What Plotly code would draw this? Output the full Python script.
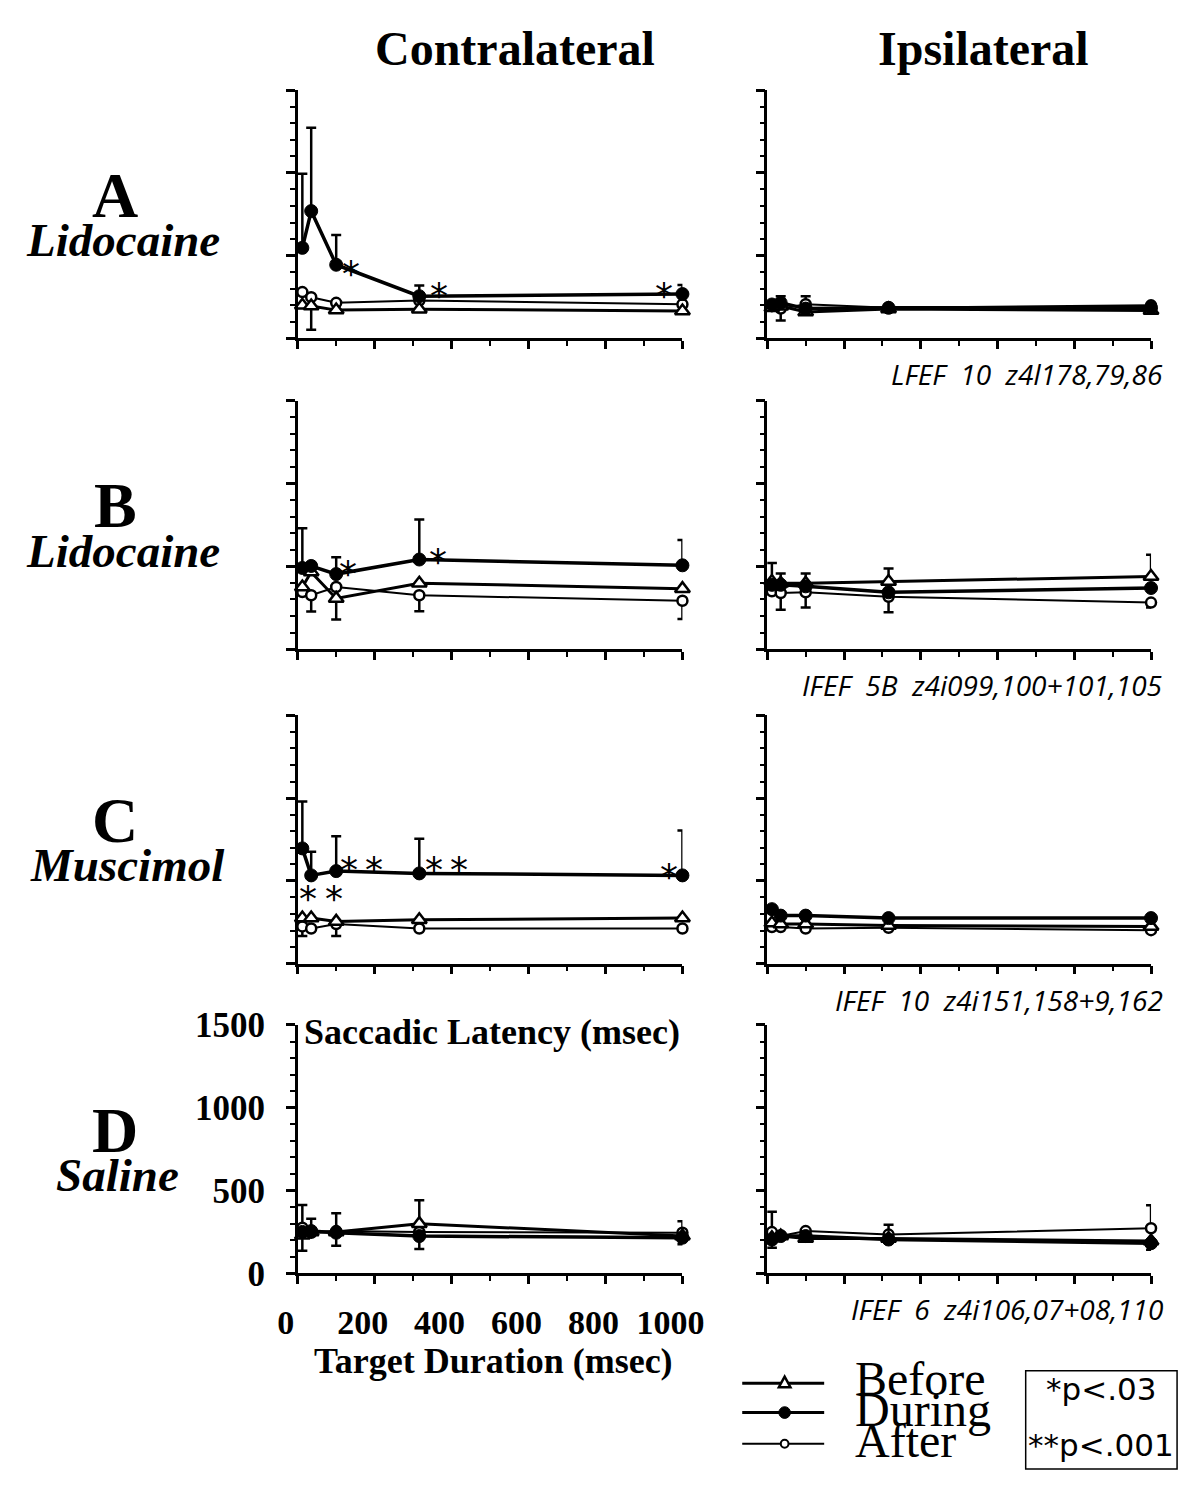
import plotly.graph_objects as go

# ---------------- data ----------------
durations = [12, 35, 100, 316, 1000]          # target duration (msec)

# A  Lidocaine
before_A_c = [200, 196, 171, 176, 166]
during_A_c = [547, 769, 445, 255, 268]
after_A_c = [280, 249, 215, 229, 206]
before_A_i = [185, 195, 160, 178, 168]
during_A_i = [205, 215, 180, 185, 185]
after_A_i = [195, 180, 207, 185, 200]
# B  Lidocaine
before_B_c = [375, 465, 306, 398, 365]
during_B_c = [490, 502, 453, 541, 506]
after_B_c = [345, 325, 375, 325, 292]
before_B_i = [408, 398, 398, 408, 438]
during_B_i = [388, 388, 379, 343, 369]
after_B_i = [349, 339, 343, 316, 281]
# C  Muscimol
before_C_c = [275, 275, 255, 265, 275]
during_C_c = [696, 533, 559, 545, 533]
after_C_c = [225, 212, 239, 212, 212]
before_C_i = [245, 240, 240, 230, 225]
during_C_i = [329, 290, 290, 275, 275]
after_C_i = [221, 221, 212, 216, 202]
# D  Saline
before_D_c = [230, 250, 250, 300, 225]
during_D_c = [250, 255, 245, 225, 215]
after_D_c = [275, 245, 255, 250, 245]
before_D_i = [215, 225, 210, 210, 195]
during_D_i = [204, 225, 225, 204, 182]
after_D_i = [249, 225, 255, 234, 272]

# error bars (plus / minus), 0 = none drawn
Z = [0, 0, 0, 0, 0]
err_during_A_c_plus = [447, 503, 180, 64, 55]
err_before_A_c_minus = [0, 143, 0, 0, 0]
err_during_A_i_plus = [0, 40, 0, 0, 0]
err_after_A_i_plus = [0, 0, 48, 0, 0]
err_after_A_i_minus = [0, 72, 0, 0, 0]
err_during_B_c_plus = [240, 0, 102, 241, 153]
err_before_B_c_minus = [0, 0, 128, 0, 0]
err_after_B_c_minus = [0, 98, 0, 96, 110]
err_before_B_i_plus = [112, 59, 59, 78, 132]
err_after_B_i_minus = [0, 101, 92, 94, 30]
err_during_C_c_plus = [284, 143, 210, 210, 271]
err_after_C_c_minus = [58, 0, 72, 0, 0]
err_after_D_c_plus = [137, 84, 108, 0, 69]
err_before_D_c_plus = [0, 0, 0, 141, 0]
err_before_D_c_minus = [93, 0, 0, 0, 0]
err_during_D_c_minus = [0, 0, 78, 78, 39]
err_after_D_i_plus = [123, 0, 0, 60, 139]
err_during_D_i_minus = [49, 0, 0, 0, 40]

row_letters = ["A", "B", "C", "D"]
row_drugs = ["Lidocaine", "Lidocaine", "Muscimol", "Saline"]
session_labels = ["LFEF\u00a0\u00a010\u00a0\u00a0z4l178,79,86",
                  "IFEF\u00a0\u00a05B\u00a0\u00a0z4i099,100+101,105",
                  "IFEF\u00a0\u00a010\u00a0\u00a0z4i151,158+9,162",
                  "IFEF\u00a0\u00a06\u00a0\u00a0z4i106,07+08,110"]
x_tick_vals = [0, 200, 400, 600, 800, 1000]
y_tick_vals = [0, 500, 1000, 1500]
series_names = ["Before", "During", "After"]

# significance stars (x, y) in data units of contralateral panels
stars_A = [(138, 455), (366, 322), (953, 322)]
stars_B = [(131, 516), (364, 590)]
stars_C = [(-88, 686), (-22, 686), (28, 455), (95, 455), (132, 628), (199, 628),
           (353, 628), (420, 628), (966, 588)]

panels = {
    (0, 0): (before_A_c, during_A_c, after_A_c,
             dict(during_p=err_during_A_c_plus, before_m=err_before_A_c_minus)),
    (0, 1): (before_A_i, during_A_i, after_A_i,
             dict(during_p=err_during_A_i_plus, after_p=err_after_A_i_plus, after_m=err_after_A_i_minus)),
    (1, 0): (before_B_c, during_B_c, after_B_c,
             dict(during_p=err_during_B_c_plus, before_m=err_before_B_c_minus, after_m=err_after_B_c_minus)),
    (1, 1): (before_B_i, during_B_i, after_B_i,
             dict(before_p=err_before_B_i_plus, after_m=err_after_B_i_minus)),
    (2, 0): (before_C_c, during_C_c, after_C_c,
             dict(during_p=err_during_C_c_plus, after_m=err_after_C_c_minus)),
    (2, 1): (before_C_i, during_C_i, after_C_i, dict()),
    (3, 0): (before_D_c, during_D_c, after_D_c,
             dict(after_p=err_after_D_c_plus, before_p=err_before_D_c_plus,
                  before_m=err_before_D_c_minus, during_m=err_during_D_c_minus)),
    (3, 1): (before_D_i, during_D_i, after_D_i,
             dict(after_p=err_after_D_i_plus, during_m=err_during_D_i_minus)),
}
stars = {0: stars_A, 1: stars_B, 2: stars_C}

# ---------------- layout geometry (pixels) ----------------
W, H = 1201, 1491
row_tops = [73, 392, 715, 1033]
PH = 255
col_x = [(287, 686), (774, 1172)]

def fx(p):
    return p / W

def fy(p):
    return 1 - p / H

SERIF = "Liberation Serif"
fig = go.Figure()

styles = {
    "Before": dict(symbol="triangle-up", size=13, lw=3, mlw=2.5, color="white"),
    "During": dict(symbol="circle", size=13, lw=3.5, mlw=1, color="black"),
    "After": dict(symbol="circle", size=10, lw=2, mlw=2.5, color="white"),
}

for (r, c), (bef, dur, aft, errs) in panels.items():
    n = r * 2 + c + 1
    xa = "x" if n == 1 else f"x{n}"
    ya = "y" if n == 1 else f"y{n}"
    for name, vals in [("After", aft), ("Before", bef), ("During", dur)]:
        key = name.lower()
        plus = errs.get(key + "_p", Z)
        minus = errs.get(key + "_m", Z)
        st = styles[name]
        fig.add_trace(go.Scatter(
            x=durations, y=vals, xaxis=xa, yaxis=ya, mode="lines+markers",
            line=dict(color="black", width=st["lw"]),
            marker=dict(symbol=st["symbol"], size=st["size"], color=st["color"],
                        line=dict(color="black", width=st["mlw"])),
            error_y=dict(type="data", symmetric=False, array=plus, arrayminus=minus,
                         color="black", thickness=2.5, width=5),
            cliponaxis=False, showlegend=False, name=name))
    x0, x1 = col_x[c]
    top = row_tops[r]
    show_lbl = (r == 3 and c == 0)
    xaxis = dict(domain=[fx(x0), fx(x1)], range=[0, 1000], anchor=ya,
                 showline=True, linecolor="black", linewidth=2.5,
                 ticks="outside", tickvals=x_tick_vals, ticklen=8, tickwidth=2.5, tickcolor="black",
                 minor=dict(dtick=100, tick0=0, ticks="outside", ticklen=5, tickwidth=2, tickcolor="black"),
                 showgrid=False, zeroline=False, showticklabels=show_lbl,
                 tickfont=dict(family=SERIF, size=34, color="black", weight="bold"),
                 ticklabelstandoff=9, ticklabelshift=-12)
    yaxis = dict(domain=[fy(top + PH), fy(top)], range=[0, 1500], anchor=xa,
                 showline=True, linecolor="black", linewidth=2.5,
                 ticks="outside", tickvals=y_tick_vals, ticklen=9, tickwidth=2.5, tickcolor="black",
                 minor=dict(dtick=100, tick0=0, ticks="outside", ticklen=5, tickwidth=2, tickcolor="black"),
                 showgrid=False, zeroline=False, showticklabels=show_lbl,
                 tickfont=dict(family=SERIF, size=35, color="black", weight="bold"),
                 ticklabelstandoff=14)
    fig.layout["xaxis" if n == 1 else f"xaxis{n}"] = xaxis
    fig.layout["yaxis" if n == 1 else f"yaxis{n}"] = yaxis

annotations = []
def ann(text, x, y, size, family=SERIF, xanchor="center", yanchor="middle", **kw):
    annotations.append(dict(text=text, x=fx(x), y=fy(y), xref="paper", yref="paper",
                            xanchor=xanchor, yanchor=yanchor, showarrow=False,
                            font=dict(family=family, size=size, color="black"), **kw))

ann("<b>Contralateral</b>", 512, 30, 48)
ann("<b>Ipsilateral</b>", 998, 30, 48)
drug_x = [106, 106, 110, 100]
for r in range(4):
    top = row_tops[r]
    ann(f"<b>{row_letters[r]}</b>", 98, top + 108, 64)
    ann(f"<b><i>{row_drugs[r]}</i></b>", drug_x[r], top + 154, 47)
    ann(f"<i>{session_labels[r]}</i>", 1186, top + PH + 37, 28,
        family="Open Sans", xanchor="right")

ann("<b>Saccadic Latency (msec)</b>", 291, 1040, 36, xanchor="left")
ann("<b>Target Duration (msec)</b>", 490, 1378, 36)

# stars
for r, pts in stars.items():
    n = r * 2 + 1
    xa = "x" if n == 1 else f"x{n}"
    ya = "y" if n == 1 else f"y{n}"
    for (sx, sy) in pts:
        annotations.append(dict(text="*", x=sx, y=sy, xref=xa, yref=ya, showarrow=False,
                                xanchor="center", yanchor="middle", yshift=-10,
                                font=dict(family="DejaVu Sans", size=36, color="black")))

# legend (drawn)
shapes = []
leg_y = [1401, 1431, 1463]
leg_txt_y = [1396, 1428, 1460]
leg_lw = [3, 3, 2]
for i, name in enumerate(series_names):
    y = leg_y[i]
    shapes.append(dict(type="line", xref="paper", yref="paper", x0=fx(748), x1=fx(833),
                       y0=fy(y), y1=fy(y), line=dict(color="black", width=leg_lw[i])))
    ann(name, 863, leg_txt_y[i], 48, xanchor="left")
# triangle
cx, cy = 792, 1400
shapes.append(dict(type="path", xref="paper", yref="paper",
                   path=f"M{fx(cx-6)},{fy(cy+5)} L{fx(cx+6)},{fy(cy+5)} L{fx(cx)},{fy(cy-6)} Z",
                   fillcolor="white", line=dict(color="black", width=2.5)))
shapes.append(dict(type="circle", xref="paper", yref="paper", x0=fx(786), x1=fx(798),
                   y0=fy(1437), y1=fy(1425), fillcolor="black", line=dict(color="black", width=1)))
shapes.append(dict(type="circle", xref="paper", yref="paper", x0=fx(788), x1=fx(796),
                   y0=fy(1467), y1=fy(1459), fillcolor="white", line=dict(color="black", width=2)))
# p-value box
shapes.append(dict(type="rect", xref="paper", yref="paper", x0=fx(1042), x1=fx(1199),
                   y0=fy(1489), y1=fy(1388), line=dict(color="black", width=1.5)))
ann("*p<.03", 1120, 1407, 31, family="DejaVu Sans")
ann("**p<.001", 1120, 1464, 31, family="DejaVu Sans")

fig.update_layout(width=W, height=H, margin=dict(l=0, r=0, t=0, b=0), autosize=False,
                  paper_bgcolor="white", plot_bgcolor="white",
                  annotations=annotations, shapes=shapes, showlegend=False)
fig.write_html("out.html")
